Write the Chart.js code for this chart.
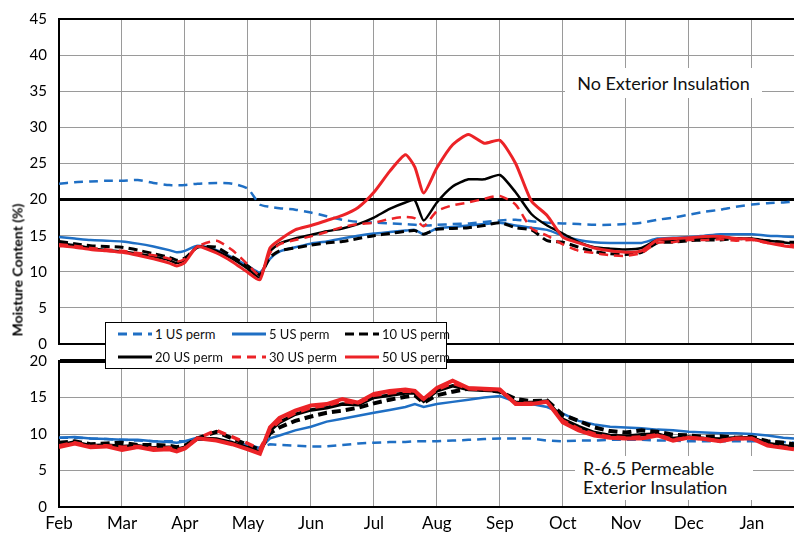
<!DOCTYPE html>
<html>
<head>
<meta charset="utf-8">
<script src="https://cdn.jsdelivr.net/npm/chart.js@4.4.1/dist/chart.umd.min.js"></script>
<style>
  body { margin: 0; background: #fff; width: 794px; height: 534px; overflow: hidden; position: relative; font-family: Lato, "DejaVu Sans", sans-serif; }
  .panel { position: absolute; left: 0; width: 794px; }
  #upper-wrap { top: -2px; height: 367px; }
  #lower-wrap { top: 340px; height: 194px; }
  #ytitle { position: absolute; left: 17px; top: 270px; transform: translate(-50%, -50%) rotate(-90deg); font-weight: bold; font-size: 14px; white-space: nowrap; color: #000; }
  .note { position: absolute; background: #fff; color: #111; font-size: 18px; line-height: 19px; white-space: nowrap; }
  #note-top { left: 565px; top: 68px; width: 197px; height: 30px; display: flex; align-items: center; justify-content: center; }
  #note-bottom { left: 575px; top: 456px; width: 178px; height: 44px; padding-left: 8px; box-sizing: border-box; display: flex; flex-direction: column; justify-content: center; }
  #legend { position: absolute; left: 105px; top: 322px; width: 340px; height: 45px; border: 1px solid #000; background: #fff; }
  .item { position: absolute; height: 16px; display: flex; align-items: center; font-size: 13px; color: #111; white-space: nowrap; }
  .item svg { margin-right: 3px; }
</style>
</head>
<body>
<div class="panel" id="upper-wrap"><canvas id="upper-chart"></canvas></div>
<div class="panel" id="lower-wrap"><canvas id="lower-chart"></canvas></div>
<div id="ytitle">Moisture Content (%)</div>
<div class="note" id="note-top">No Exterior Insulation</div>
<div class="note" id="note-bottom"><span>R-6.5 Permeable</span><span>Exterior Insulation</span></div>
<div id="legend"></div>
<script>
const monthLabels = ["Feb", "Mar", "Apr", "May", "Jun", "Jul", "Aug", "Sep", "Oct", "Nov", "Dec", "Jan"];
const seriesNames = ["1 US perm", "5 US perm", "10 US perm", "20 US perm", "30 US perm", "50 US perm"];

// time in months after Feb 1
const months = [0, 0.25, 0.5, 0.75, 1, 1.25, 1.5, 1.75, 1.87, 2, 2.2, 2.5, 2.75, 3, 3.19, 3.35, 3.5, 3.75,
  4, 4.25, 4.5, 4.75, 5, 5.25, 5.5, 5.65, 5.79, 6, 6.25, 6.5, 6.75, 7, 7.25, 7.5, 7.75,
  8, 8.25, 8.5, 8.75, 9, 9.25, 9.5, 9.75, 10, 10.25, 10.5, 10.75, 11, 11.25, 11.5, 11.67];

// No Exterior Insulation (%)
const upper1 = [22.2, 22.4, 22.5, 22.6, 22.6, 22.7, 22.3, 22.0, 22.0, 22.0, 22.2, 22.3, 22.2, 21.5, 19.3, 19.0, 18.8, 18.6,
  18.2, 17.7, 17.2, 16.9, 16.8, 16.7, 16.6, 16.5, 16.4, 16.5, 16.6, 16.7, 16.9, 17.1, 17.2, 17.0, 16.8,
  16.7, 16.6, 16.5, 16.5, 16.6, 16.8, 17.2, 17.5, 17.9, 18.3, 18.6, 19.0, 19.3, 19.5, 19.6, 19.7];
const upper5 = [14.8, 14.6, 14.4, 14.3, 14.2, 13.9, 13.5, 13.0, 12.7, 12.9, 13.6, 13.0, 12.0, 10.8, 9.9, 11.8, 12.8, 13.4,
  13.9, 14.2, 14.6, 15.0, 15.3, 15.5, 15.7, 15.8, 15.2, 16.0, 16.2, 16.4, 16.6, 16.8, 16.4, 16.1, 15.8,
  15.0, 14.4, 14.1, 14.0, 14.0, 14.0, 14.6, 14.7, 14.8, 15.0, 15.2, 15.2, 15.2, 15.0, 14.9, 14.8];
const upper10 = [14.2, 13.9, 13.6, 13.5, 13.4, 13.0, 12.5, 12.0, 11.6, 11.9, 13.4, 13.4, 12.1, 10.8, 9.6, 12.0, 12.9, 13.3,
  13.7, 14.0, 14.2, 14.6, 15.0, 15.3, 15.6, 15.7, 15.2, 15.9, 16.0, 16.1, 16.4, 16.8, 16.1, 15.8, 14.3,
  14.1, 13.4, 12.8, 12.5, 12.4, 12.7, 14.0, 14.1, 14.3, 14.4, 14.4, 14.6, 14.5, 14.3, 14.1, 14.1];
const upper20 = [13.9, 13.7, 13.3, 13.0, 12.8, 12.5, 12.1, 11.6, 11.2, 11.6, 13.5, 12.9, 11.8, 10.4, 9.2, 12.8, 13.9, 14.6,
  15.1, 15.6, 16.0, 16.6, 17.5, 18.7, 19.6, 19.9, 17.1, 19.6, 21.8, 22.8, 22.8, 23.4, 21.0, 18.0, 16.4,
  15.3, 14.1, 13.4, 13.2, 13.1, 13.3, 14.4, 14.4, 14.6, 14.6, 14.7, 14.6, 14.6, 14.3, 14.1, 13.9];
const upper30 = [13.8, 13.6, 13.3, 13.1, 12.9, 12.6, 12.3, 11.8, 11.4, 11.8, 13.5, 14.3, 13.0, 11.0, 9.5, 12.6, 13.8, 14.4,
  14.9, 15.5, 16.2, 16.6, 16.8, 17.3, 17.6, 17.4, 16.3, 18.4, 19.2, 19.6, 20.1, 20.5, 19.3, 16.0, 15.0,
  13.8, 12.9, 12.6, 12.3, 12.2, 12.6, 14.0, 14.1, 14.4, 14.4, 14.5, 14.3, 14.4, 14.0, 13.8, 13.7];
const upper50 = [13.6, 13.4, 13.1, 12.9, 12.7, 12.3, 11.8, 11.2, 10.8, 11.3, 13.5, 12.6, 11.4, 9.9, 8.9, 13.3, 14.4, 15.8,
  16.4, 17.1, 17.8, 18.9, 21.0, 23.9, 26.2, 24.5, 20.9, 24.4, 27.6, 29.0, 27.8, 28.2, 25.0, 19.8, 17.8,
  14.8, 14.0, 13.3, 12.9, 12.7, 12.9, 14.4, 14.6, 14.7, 14.9, 14.9, 14.6, 14.5, 14.0, 13.6, 13.4];

// R-6.5 Permeable Exterior Insulation (%)
const lower1 = [9.5, 9.5, 9.4, 9.3, 9.2, 9.1, 9.0, 9.0, 9.0, 9.0, 9.2, 9.2, 8.9, 8.5, 8.1, 8.6, 8.5, 8.4,
  8.3, 8.3, 8.5, 8.7, 8.8, 8.9, 8.9, 9.0, 9.0, 9.0, 9.1, 9.2, 9.3, 9.4, 9.4, 9.4, 9.1,
  9.0, 9.1, 9.1, 9.2, 9.2, 9.2, 9.1, 9.1, 9.0, 9.0, 9.0, 9.0, 9.0, 9.0, 8.9, 8.8];
const lower5 = [9.5, 9.6, 9.4, 9.3, 9.2, 9.2, 9.0, 8.9, 8.8, 9.0, 9.5, 9.1, 8.7, 8.3, 8.0, 9.4, 9.8, 10.5,
  11.0, 11.7, 12.1, 12.5, 12.9, 13.3, 13.7, 14.1, 13.7, 14.1, 14.4, 14.7, 15.0, 15.2, 14.4, 14.1, 13.7,
  12.8, 11.8, 11.3, 11.0, 10.9, 10.8, 10.6, 10.5, 10.3, 10.2, 10.1, 10.1, 10.0, 9.8, 9.5, 9.4];
const lower10 = [8.8, 9.0, 8.6, 8.7, 8.8, 8.5, 8.5, 8.4, 8.2, 8.4, 9.4, 10.3, 9.4, 8.5, 7.8, 10.1, 10.9, 11.8,
  12.4, 12.9, 13.2, 13.6, 14.2, 14.7, 15.1, 15.3, 14.3, 15.3, 15.8, 16.2, 16.1, 15.8, 14.8, 14.5, 14.6,
  12.6, 11.8, 10.9, 10.4, 10.2, 10.5, 10.3, 9.9, 9.8, 9.6, 9.7, 9.5, 9.6, 9.0, 8.8, 8.6];
const lower20 = [8.5, 8.9, 8.4, 8.5, 8.3, 8.4, 8.1, 8.2, 7.9, 8.2, 9.4, 9.3, 8.8, 8.1, 7.5, 10.5, 11.6, 12.7,
  13.3, 13.6, 14.1, 14.0, 15.0, 15.3, 15.6, 15.6, 14.5, 15.9, 16.6, 16.1, 16.0, 15.9, 14.3, 14.3, 14.5,
  12.0, 11.0, 10.2, 9.8, 9.7, 9.9, 10.0, 9.4, 9.6, 9.4, 9.3, 9.5, 9.5, 8.7, 8.4, 8.2];
const lower30 = [8.4, 8.8, 8.3, 8.4, 8.2, 8.3, 8.0, 8.1, 7.8, 8.1, 9.4, 10.5, 9.6, 8.7, 7.9, 10.6, 11.8, 12.9,
  13.6, 13.9, 14.5, 14.2, 15.3, 15.6, 15.9, 15.8, 14.7, 16.1, 17.0, 16.2, 16.1, 16.0, 14.2, 14.2, 14.4,
  11.8, 10.7, 10.0, 9.6, 9.5, 9.6, 9.9, 9.2, 9.5, 9.3, 9.1, 9.4, 9.4, 8.5, 8.2, 8.0];
const lower50 = [8.2, 8.7, 8.2, 8.3, 7.8, 8.2, 7.8, 7.9, 7.6, 8.0, 9.4, 9.1, 8.6, 7.9, 7.3, 10.9, 12.2, 13.2,
  13.9, 14.1, 14.8, 14.3, 15.5, 15.9, 16.1, 15.9, 14.8, 16.3, 17.3, 16.3, 16.2, 16.1, 14.1, 14.1, 14.4,
  11.6, 10.5, 9.8, 9.5, 9.4, 9.4, 9.8, 9.1, 9.5, 9.3, 9.0, 9.4, 9.4, 8.4, 8.1, 7.9];

const BLUE = "#1f6fc4";
const RED = "#ec2327";
const BLACK = "#000000";
const lineStyles = [
  { color: BLUE, dash: [9, 6], width: 2.5, order: 6 },
  { color: BLUE, dash: [], width: 2.5, order: 5 },
  { color: BLACK, dash: [9, 5], width: 3, order: 4 },
  { color: BLACK, dash: [], width: 2.5, order: 3 },
  { color: RED, dash: [9, 6], width: 2.5, order: 2 },
  { color: RED, dash: [], width: 3, order: 1 },
];

function makeDatasets(seriesList, extraWidth, tension) {
  return seriesList.map((values, i) => ({
    label: seriesNames[i],
    data: months.map((m, j) => ({ x: m, y: values[j] })),
    borderColor: lineStyles[i].color,
    borderDash: lineStyles[i].dash,
    borderWidth: lineStyles[i].width + (i >= 2 ? extraWidth : 0),
    order: lineStyles[i].order,
    pointRadius: 0,
    tension: tension,
    fill: false,
  }));
}

function makeOptions(maxY, lower) {
  return {
    responsive: true,
    maintainAspectRatio: false,
    animation: false,
    layout: { padding: 0 },
    plugins: { legend: { display: false }, tooltip: { enabled: false } },
    scales: {
      x: {
        type: "linear",
        min: 0,
        max: 11.67,
        afterFit: (scale) => { scale.height = lower ? 27 : 0; },
        border: { display: true, color: BLACK, width: 2 },
        grid: { color: "#9a9a9a", lineWidth: 1, drawTicks: false },
        ticks: {
          display: lower,
          stepSize: 1,
          includeBounds: false,
          autoSkip: false,
          maxRotation: 0,
          padding: 6,
          color: "#000",
          font: { family: "Lato", size: 17 },
          callback: (v) => monthLabels[v] ?? "",
        },
      },
      y: {
        min: 0,
        max: maxY,
        afterFit: (scale) => { scale.width = 59; },
        border: { display: true, color: BLACK, width: 2 },
        grid: {
          drawTicks: false,
          color: (ctx) => (ctx.tick && (ctx.tick.value === 20 || ctx.tick.value === maxY) ? BLACK : "#9a9a9a"),
          lineWidth: (ctx) => {
            if (!ctx.tick) return 1;
            if (ctx.tick.value === 20) return lower ? 4 : 3;
            if (ctx.tick.value === maxY) return 2;
            return 1;
          },
        },
        ticks: { stepSize: 5, padding: 12, color: "#000", font: { family: "Lato", size: 15 } },
      },
    },
  };
}

new Chart(document.getElementById("upper-chart").getContext("2d"), {
  type: "line",
  data: { datasets: makeDatasets([upper1, upper5, upper10, upper20, upper30, upper50], 0, 0.2) },
  options: makeOptions(45, false),
});

new Chart(document.getElementById("lower-chart").getContext("2d"), {
  type: "line",
  data: { datasets: makeDatasets([lower1, lower5, lower10, lower20, lower30, lower50], 1, 0) },
  options: makeOptions(20, true),
});

// legend: three columns, two rows
const legendBox = document.getElementById("legend");
const colLeft = [12, 126, 239];
const rowTop = [3, 26];
seriesNames.forEach((name, i) => {
  const st = lineStyles[i];
  const item = document.createElement("div");
  item.className = "item";
  item.style.left = colLeft[i % 3] + "px";
  item.style.top = rowTop[Math.floor(i / 3)] + "px";
  const dash = st.dash.length ? `stroke-dasharray="${st.dash.join(" ")}"` : "";
  item.innerHTML = `<svg width="34" height="6"><line x1="0" y1="3" x2="34" y2="3" stroke="${st.color}" stroke-width="3" ${dash}/></svg><span>${name}</span>`;
  legendBox.appendChild(item);
});
</script>
</body>
</html>
